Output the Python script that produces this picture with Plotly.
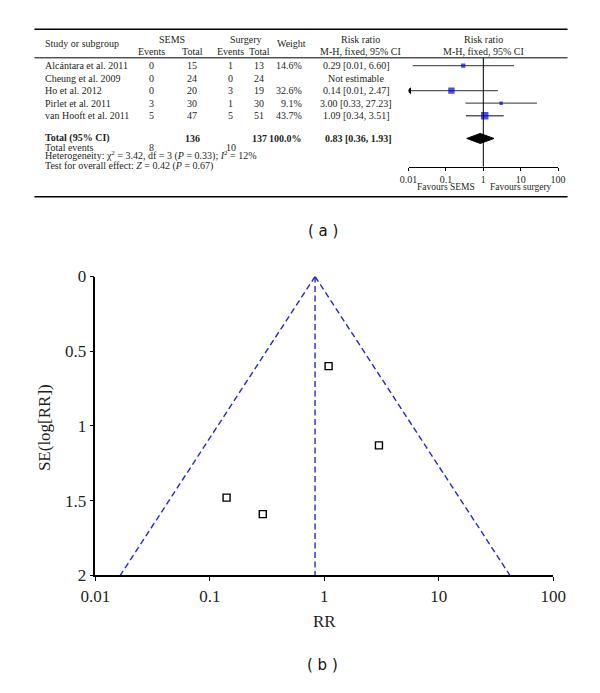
import plotly.graph_objects as go

# ---------------- data ----------------
studies = ["Alcántara et al. 2011", "Cheung et al. 2009", "Ho et al. 2012",
           "Pirlet et al. 2011", "van Hooft et al. 2011"]
sems_events = [0, 0, 0, 3, 5]
sems_total = [15, 24, 20, 30, 47]
surg_events = [1, 0, 3, 1, 5]
surg_total = [13, 24, 19, 30, 51]
weight_text = ["14.6%", "", "32.6%", "9.1%", "43.7%"]
weights = [14.6, None, 32.6, 9.1, 43.7]
rr = [0.29, None, 0.14, 3.00, 1.09]
ci_lo = [0.013, None, 0.0075, 0.33, 0.34]
ci_hi = [6.60, None, 2.47, 27.23, 3.51]
rr_text = ["0.29 [0.01, 6.60]", "Not estimable", "0.14 [0.01, 2.47]",
           "3.00 [0.33, 27.23]", "1.09 [0.34, 3.51]"]
total_sems, total_surg = 136, 137
events_sems, events_surg = 8, 10
pooled_rr, pooled_lo, pooled_hi = 0.83, 0.36, 1.93
forest_ticks = [0.01, 0.1, 1, 10, 100]
forest_ticktext = ["0.01", "0.1", "1", "10", "100"]

# funnel plot data
funnel_rr = [0.29, 0.14, 3.00, 1.09]
funnel_se = [1.59, 1.48, 1.13, 0.60]
funnel_left = [0.83, 0.0165]
funnel_right = [0.83, 41.8]
funnel_se_span = [0, 2]
funnel_xticks = [0.01, 0.1, 1, 10, 100]
funnel_xticktext = ["0.01", "0.1", "1", "10", "100"]
funnel_yticks = [0, 0.5, 1, 1.5, 2]
funnel_yticktext = ["0", "0.5", "1", "1.5", "2"]

# ---------------- layout helpers ----------------
OX, OY = 8, 8            # default page body margin
W, H = 600 - 2 * OX, 693 - 2 * OY
SERIF = "Liberation Serif"
TXT = "#231f20"
BLUE = "#0000f0"
DASHBLUE = "#2626d0"


def px(x):
    return (x - OX) / W


def py(y):
    return 1 - (y - OY) / H


ROW0, ROWH = 58, 12.9
row_idx = [0, 1, 2, 3, 4]
ROW_TOTAL, ROW_EVENTS, ROW_HET, ROW_TEST = 5.81, 6.51, 7.21, 7.98
HDR1, HDR_MID, HDR2 = -2.09, -1.78, -1.09


def ry(i):
    return py(ROW0 + ROWH * i)


fig = go.Figure()

# ---------- forest plot marks (x3 / y3) ----------
for i in row_idx:
    if rr[i] is None:
        continue
    fig.add_trace(go.Scatter(x=[ci_lo[i], ci_hi[i]], y=[i, i], mode="lines",
                             line=dict(color="#5a5a5a", width=1.3),
                             xaxis="x3", yaxis="y3", showlegend=False, hoverinfo="skip"))
trunc = [i for i in row_idx if ci_lo[i] is not None and ci_lo[i] < 0.01]
fig.add_trace(go.Scatter(x=[0.0106] * len(trunc), y=trunc, mode="markers",
                         marker=dict(symbol="triangle-left", size=6, color="black"),
                         xaxis="x3", yaxis="y3", showlegend=False, hoverinfo="skip"))
est = [i for i in row_idx if rr[i] is not None]
fig.add_trace(go.Scatter(x=[rr[i] for i in est], y=est, mode="markers",
                         marker=dict(symbol="square", color=BLUE,
                                     size=[1.12 * weights[i] ** 0.5 for i in est],
                                     line=dict(width=0)),
                         xaxis="x3", yaxis="y3", showlegend=False, hoverinfo="skip"))
dh = 0.40
fig.add_trace(go.Scatter(x=[pooled_lo, pooled_rr, pooled_hi, pooled_rr, pooled_lo],
                         y=[ROW_TOTAL, ROW_TOTAL - dh, ROW_TOTAL, ROW_TOTAL + dh, ROW_TOTAL],
                         mode="lines", fill="toself", fillcolor="black",
                         line=dict(color="black", width=1),
                         xaxis="x3", yaxis="y3", showlegend=False, hoverinfo="skip"))

# ---------- funnel plot (x / y) ----------
for xs in (funnel_left, funnel_right, [pooled_rr, pooled_rr]):
    fig.add_trace(go.Scatter(x=xs, y=funnel_se_span, mode="lines",
                             line=dict(color=DASHBLUE, width=1.4, dash="6px,3.5px"),
                             showlegend=False, hoverinfo="skip"))
fig.add_trace(go.Scatter(x=funnel_rr, y=funnel_se, mode="markers",
                         marker=dict(symbol="square", size=7, color="white",
                                     line=dict(color="black", width=1.4)),
                         showlegend=False, hoverinfo="skip"))

# ---------- shapes ----------
shapes = [
    dict(type="line", xref="paper", yref="paper", x0=px(20), x1=px(580), y0=py(20.5), y1=py(20.5),
         line=dict(color="black", width=1.5)),
    dict(type="line", xref="paper", yref="paper", x0=px(20), x1=px(580), y0=py(50), y1=py(50),
         line=dict(color="black", width=1)),
    dict(type="line", xref="paper", yref="paper", x0=px(20), x1=px(580), y0=py(193), y1=py(193),
         line=dict(color="black", width=1.5)),
    dict(type="line", xref="x3", yref="y3 domain", x0=1, x1=1, y0=0, y1=1,
         line=dict(color="black", width=1)),
]

# ---------- annotations ----------
ann = []


def t(text, x, yp, anchor="center", size=10, font=SERIF, color=TXT, **kw):
    ann.append(dict(text=text, x=px(x), y=yp, xref="paper", yref="paper", xanchor=anchor,
                    yanchor="middle", showarrow=False,
                    font=dict(family=font, size=size, color=color), **kw))


t("Study or subgroup", 29, ry(HDR_MID), "left")
t("SEMS", 165, ry(HDR1))
t("Surgery", 242, ry(HDR1))
t("Weight", 290, ry(HDR_MID))
t("Risk ratio", 362, ry(HDR1))
t("M-H, fixed, 95% CI", 362, ry(HDR2))
t("Risk ratio", 492, ry(HDR1))
t("M-H, fixed, 95% CI", 492, ry(HDR2))
t("Events", 143, ry(HDR2))
t("Total", 186, ry(HDR2))
t("Events", 226, ry(HDR2))
t("Total", 256, ry(HDR2))

for i in row_idx:
    t(studies[i], 29, ry(i), "left")
    t(str(sems_events[i]), 143, ry(i))
    t(str(sems_total[i]), 186, ry(i))
    t(str(surg_events[i]), 226, ry(i))
    t(str(surg_total[i]), 256, ry(i))
    if weight_text[i]:
        t(weight_text[i], 303, ry(i), "right")
    t(rr_text[i], 358, ry(i))

t("<b>Total (95% CI)</b>", 29, ry(ROW_TOTAL), "left")
t(f"<b>{total_sems}</b>", 186, ry(ROW_TOTAL))
t(f"<b>{total_surg}</b>", 256, ry(ROW_TOTAL))
t("<b>100.0%</b>", 303, ry(ROW_TOTAL), "right")
t(f"<b>{pooled_rr:.2f} [{pooled_lo:.2f}, {pooled_hi:.2f}]</b>", 360, ry(ROW_TOTAL))
t("Total events", 29, ry(ROW_EVENTS), "left")
t(str(events_sems), 143, ry(ROW_EVENTS))
t(str(events_surg), 226, ry(ROW_EVENTS))
t("Heterogeneity: χ<sup>2</sup> = 3.42, df = 3 (<i>P</i> = 0.33); <i>I</i><sup>2</sup> = 12%",
  29, ry(ROW_HET), "left")
t("Test for overall effect: <i>Z</i> = 0.42 (<i>P</i> = 0.67)", 29, ry(ROW_TEST), "left")

t("Favours SEMS", 452, py(183), size=9.5)
t("Favours surgery", 531, py(183), size=9.5)

t("( a )", 323, py(228), size=15, font="DejaVu Sans", color="#111")
t("( b )", 323, py(675), size=15, font="DejaVu Sans", color="#111")

t("RR", 324.5, py(630), size=17)
t("SE(log[RR])", 30, py(430), size=17, textangle=-90)

fig.update_layout(
    width=W, height=H, margin=dict(l=0, r=0, t=0, b=0),
    paper_bgcolor="white", plot_bgcolor="white",
    shapes=shapes, annotations=ann,
    xaxis=dict(type="log", range=[-2, 2], domain=[px(84), px(565)], anchor="y",
               showgrid=False, zeroline=False, showline=True, linecolor="black", linewidth=1.5,
               ticks="outside", ticklen=4, tickwidth=1.2, tickcolor="black",
               tickvals=funnel_xticks, ticktext=funnel_xticktext,
               tickfont=dict(family=SERIF, size=17, color=TXT)),
    yaxis=dict(range=[2, 0], domain=[py(582.5), py(275)], anchor="x",
               showgrid=False, zeroline=False, showline=True, linecolor="black", linewidth=1.5,
               ticks="outside", ticklen=4, tickwidth=1.2, tickcolor="black",
               tickvals=funnel_yticks, ticktext=funnel_yticktext,
               tickfont=dict(family=SERIF, size=17, color=TXT)),
    xaxis3=dict(type="log", range=[-2, 2], domain=[px(413), px(570)], anchor="free",
                position=py(162), showgrid=False, zeroline=False, showline=True,
                linecolor="black", linewidth=1, ticks="outside", ticklen=3, tickcolor="black",
                tickvals=forest_ticks, ticktext=forest_ticktext,
                tickfont=dict(family=SERIF, size=10, color=TXT)),
    yaxis3=dict(range=[(162 - ROW0) / ROWH, (50 - ROW0) / ROWH],
                domain=[py(162), py(50)], anchor="x3",
                visible=False, showgrid=False, zeroline=False),
)

fig.write_html("out.html")
